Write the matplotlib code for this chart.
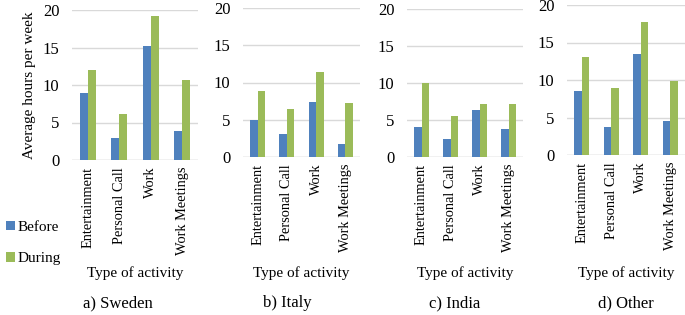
import matplotlib.pyplot as plt
import numpy as np

activities = ["Entertainment", "Personal Call", "Work", "Work Meetings"]
countries = ["a) Sweden", "b) Italy", "c) India", "d) Other"]

before = {
	"a) Sweden": [9.0, 2.9, 15.2, 3.9],
	"b) Italy": [5.0, 3.1, 7.4, 1.8],
	"c) India": [4.0, 2.4, 6.3, 3.8],
	"d) Other": [8.6, 3.7, 13.5, 4.5],
}
during = {
	"a) Sweden": [12.0, 6.2, 19.2, 10.7],
	"b) Italy": [8.9, 6.5, 11.4, 7.2],
	"c) India": [10.0, 5.5, 7.2, 7.2],
	"d) Other": [13.1, 9.0, 17.7, 9.9],
}

BLUE = "#4f81bd"
GREEN = "#9bbb59"
GRID = "#d9d9d9"
W, H = 685, 315

plt.rcParams["font.family"] = ["Liberation Serif", "DejaVu Serif"]

fig = plt.figure(figsize=(W / 100, H / 100), dpi=100)

# pixel boxes of each panel: left, right, y of 20, y of 0
boxes = [(72, 198, 10, 160), (243, 360, 8, 157), (407, 523, 9, 157), (567, 685, 5, 155)]
sub_x = [118, 287, 455, 626]

x = np.arange(len(activities))
bw = 0.26
for name, (x0, x1, yt, yb), sx in zip(countries, boxes, sub_x):
	ax = fig.add_axes([x0 / W, 1 - yb / H, (x1 - x0) / W, (yb - yt) / H])
	ax.bar(x - bw / 2, before[name], bw, color=BLUE, label="Before", zorder=3)
	ax.bar(x + bw / 2, during[name], bw, color=GREEN, label="During", zorder=3)
	ax.set_xlim(-0.5, 3.5)
	ax.set_ylim(0, 20)
	ax.set_yticks([0, 5, 10, 15, 20])
	ax.yaxis.grid(True, color=GRID, lw=1, zorder=0)
	for s in ax.spines.values():
		s.set_visible(False)
	ax.axhline(0, color=GRID, lw=1, zorder=2)
	ax.set_xticks(x)
	ax.set_xticklabels(activities, rotation=90)
	ax.tick_params(axis="both", length=0)
	ax.tick_params(axis="x", pad=5, labelsize=10.4)
	ax.tick_params(axis="y", pad=9, labelsize=12)
	fig.text((x0 + x1) / 2 / W, 1 - 273 / H, "Type of activity", ha="center", va="center", fontsize=11)
	fig.text(sx / W, 1 - 303 / H, name, ha="center", va="center", fontsize=12)
	if name == "a) Sweden":
		ax.set_ylabel("Average hours per week", fontsize=11, labelpad=5)
		handles, labels = ax.get_legend_handles_labels()

fig.legend(handles, labels, loc="center left", bbox_to_anchor=(-0.012, 1 - 243 / H),
	frameon=False, fontsize=11, handlelength=0.6, handleheight=0.6,
	handletextpad=0.2, labelspacing=1.2)

fig.savefig("out.png", dpi=100)
